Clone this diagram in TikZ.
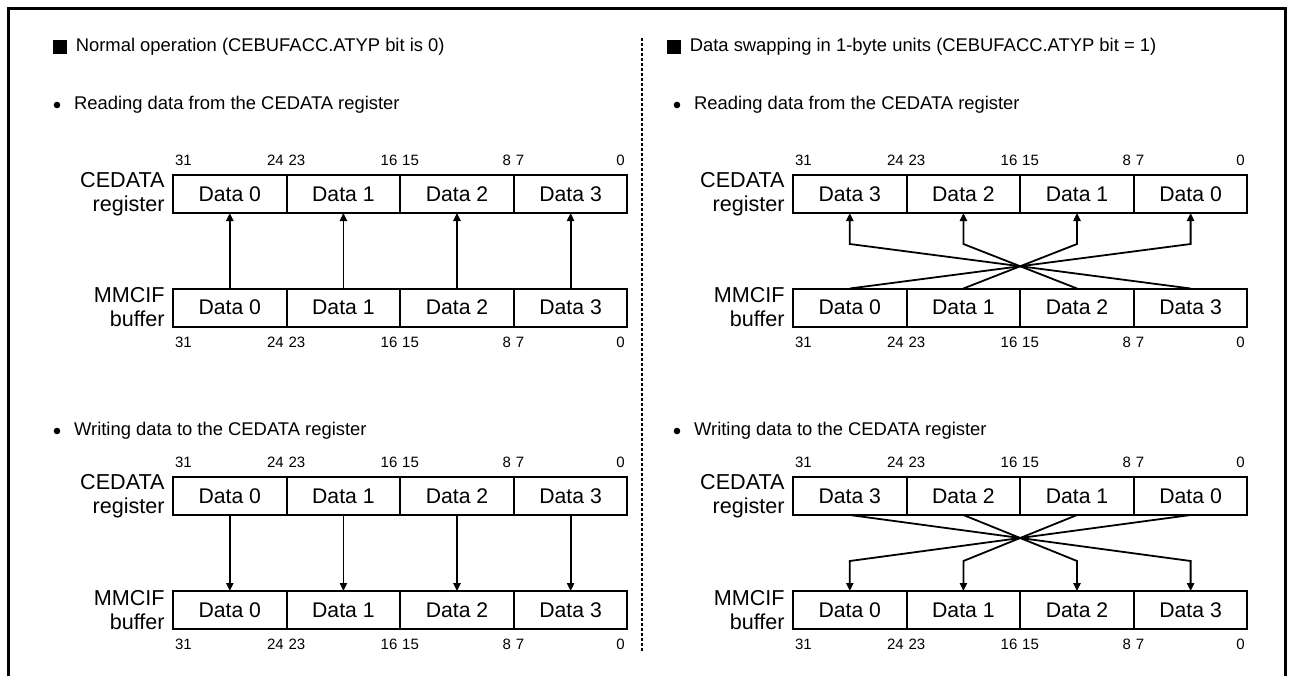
\documentclass[tikz,border=0pt]{standalone}
\usepackage{fontspec}
\setmainfont{Liberation Sans}
\usetikzlibrary{positioning, arrows.meta}

\begin{document}
\begin{tikzpicture}[x=0.5pt, y=-0.5pt, >={Triangle[length=4pt, width=3.6pt]},
    celda/.style={draw, line width=1pt, minimum width=56.8pt, minimum height=19pt,
        inner sep=0pt, outer sep=0pt, font=\fontsize{10.6}{12}\selectfont},
    bits/.style={inner sep=0pt, font=\fontsize{7.5}{8}\selectfont},
    rotulo/.style={align=right, inner sep=0pt, font=\fontsize{10.8}{12}\selectfont},
    titulo/.style={anchor=west, inner sep=0pt, font=\fontsize{9.2}{11}\selectfont},
    punto/.style={circle, fill, inner sep=0pt, minimum size=3.3pt},
    flecha/.style={->, line width=0.9pt}]

                \useasboundingbox (0,0) rectangle (1291,675);

                % Marco exterior (abierto por abajo) y separador central
                \draw[line width=1.5pt] (8,680) -- (8,8) -- (1285,8) -- (1285,680);
                \draw[line width=0.8pt, dash pattern=on 1.5pt off 1pt] (642,38) -- (642,652);

                % Titulos de cada mitad
                \node[fill, minimum size=7pt, inner sep=0pt] (L-cuadro) at (60,47) {};
                \node[titulo, right=4pt of L-cuadro] (L-titulo) {Normal operation (CEBUFACC.ATYP bit is 0)};
                \node[fill, minimum size=7pt, inner sep=0pt] (R-cuadro) at (674,47) {};
                \node[titulo, right=4pt of R-cuadro] (R-titulo) {Data swapping in 1-byte units (CEBUFACC.ATYP bit = 1)};

                % Vinetas de lectura y escritura
                \foreach \p/\x in {L/57, R/677} {
                    \node[punto] (\p-plee) at (\x,105) {};
                    \node[titulo, right=6.5pt of \p-plee] (\p-lee) {Reading data from the CEDATA register};
                    \node[punto] (\p-pesc) at (\x,431) {};
                    \node[titulo, right=6.5pt of \p-pesc] (\p-esc) {Writing data to the CEDATA register};
                }

                % Celdas del registro CEDATA (reg) y del buffer MMCIF (buf)
                \foreach \p/\x/\orden in {L/173/{0,1,2,3}, R/793/{3,2,1,0}}
                    \foreach \s/\yr/\yb in {r/194/307.5, w/496/610}
                        \foreach \d [count=\i from 0] in \orden {
                            \node[celda] (\p-\s-reg-\i) at ({\x+113.6*\i+56.8},\yr) {Data \d};
                            \node[celda] (\p-\s-buf-\i) at ({\x+113.6*\i+56.8},\yb) {Data \i};
                        }

                % Rotulos a la izquierda de cada fila
                \foreach \p in {L,R}
                    \foreach \s in {r,w} {
                        \node[rotulo, left=4pt of \p-\s-reg-0] (\p-\s-rreg) {CEDATA\\register};
                        \node[rotulo, left=4pt of \p-\s-buf-0] (\p-\s-rbuf) {MMCIF\\buffer};
                    }

                % Numeros de bit encima del registro y debajo del buffer
                \foreach \p in {L,R}
                    \foreach \s in {r,w}
                        \foreach \i in {0,...,3} {
                            \pgfmathtruncatemacro\alto{31-8*\i}
                            \pgfmathtruncatemacro\bajo{24-8*\i}
                            \node[bits, anchor=south west] (\p-\s-ra-\i) at ([xshift=0.8pt, yshift=4.5pt]\p-\s-reg-\i.north west) {\alto};
                            \node[bits, anchor=south east] (\p-\s-rb-\i) at ([xshift=-1.2pt, yshift=4.5pt]\p-\s-reg-\i.north east) {\bajo};
                            \node[bits, anchor=north west] (\p-\s-ba-\i) at ([xshift=0.8pt, yshift=-5pt]\p-\s-buf-\i.south west) {\alto};
                            \node[bits, anchor=north east] (\p-\s-bb-\i) at ([xshift=-1.2pt, yshift=-5pt]\p-\s-buf-\i.south east) {\bajo};
                        }

                % Transferencia directa (lado izquierdo)
                \foreach \i in {0,...,3} {
                    \draw[flecha] (L-r-buf-\i) -- (L-r-reg-\i);
                    \draw[flecha] (L-w-reg-\i) -- (L-w-buf-\i);
                }

                % Intercambio de bytes: las lineas se cruzan en el centro (lado derecho)
                \foreach \i in {0,...,3} {
                    \pgfmathtruncatemacro\j{3-\i}
                    \draw[flecha] (R-r-buf-\i.north) -- ([yshift=-15.5pt]R-r-reg-\j.south) -- (R-r-reg-\j.south);
                    \draw[flecha] (R-w-reg-\j.south) -- ([yshift=15pt]R-w-buf-\i.north) -- (R-w-buf-\i.north);
                }
            \end{tikzpicture}
\end{document}
